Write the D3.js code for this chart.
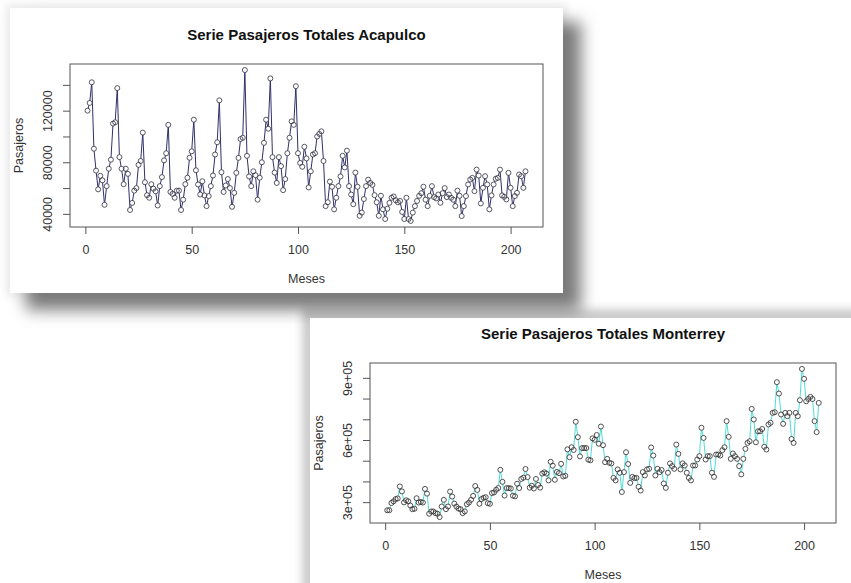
<!DOCTYPE html>
<html><head><meta charset="utf-8">
<script src="https://cdn.jsdelivr.net/npm/d3@7"></script>
<style>
html,body{margin:0;padding:0;background:#fff;}
svg{display:block;}
text{font-family:"Liberation Sans",Arial,Helvetica,sans-serif;}
</style>
</head><body>
<svg id="c" width="851" height="583"></svg>
<script>
// ---- data ----
const acapulcoPasajeros = [
 120000,126000,142000,90500,73500,59000,69500,66000,47000,61500,75000,82000,
 110000,111000,137500,84000,75000,63000,75000,71000,43000,48500,58000,60000,
 78000,81000,103000,64500,54500,52500,63000,59500,57500,46500,61500,68500,
 81500,87000,109000,57000,55500,52500,58000,58000,43000,51000,63000,68000,
 83500,88500,113000,73800,62800,55000,65300,54300,46000,53800,61500,69700,
 86000,95500,128000,72300,57000,62000,67000,60000,45500,56300,71800,83400,
 98000,99000,151500,85000,69000,61500,73000,70000,51000,68000,80000,95000,
 113000,106000,145000,84000,72000,64000,84000,77000,58400,67000,87000,99000,
 111700,109000,139000,87000,79500,76500,92000,83000,60500,73000,86000,87000,
 100000,102000,104000,81000,46000,49000,65000,61000,43500,52500,61500,69000,
 85000,76000,89000,61500,55000,47500,72000,61000,38500,41000,51500,61500,
 66500,64000,62500,54500,49000,38500,54000,43500,36000,44000,48500,52500,
 53500,50500,49000,50000,41500,36000,52500,36000,34500,41000,46000,50000,
 54000,56000,61000,51000,46000,54000,61500,53000,52000,55000,48600,56000,
 60000,53000,55000,52500,51000,46000,58000,54000,38300,46000,53800,62800,
 66600,67900,57600,74300,69700,48100,60200,69200,62800,43500,54300,62800,
 67200,67900,74300,54300,53200,51200,71800,60200,46000,53800,56300,70500,
 69200,60200,73000
];
const monterreyPasajeros = [
 261000,261000,296000,304000,315000,318000,376000,352000,299000,309000,304000,284000,
 266000,268000,319000,298000,301000,298000,364000,341000,244000,255000,255000,247000,
 244000,228000,279000,311000,266000,279000,351000,327000,293000,279000,269000,266000,
 247000,255000,290000,298000,311000,330000,378000,359000,292000,315000,321000,324000,
 295000,292000,344000,347000,360000,368000,456000,398000,332000,368000,368000,366000,
 331000,328000,389000,368000,412000,418000,460000,421000,370000,379000,366000,412000,
 383000,370000,438000,444000,438000,405000,495000,476000,408000,446000,440000,485000,
 424000,427000,555000,517000,565000,552000,688000,614000,521000,561000,561000,561000,
 505000,502000,608000,601000,624000,582000,665000,575000,493000,509000,490000,487000,
 417000,405000,458000,442000,349000,445000,541000,484000,393000,422000,416000,417000,
 374000,356000,445000,429000,458000,461000,564000,525000,429000,461000,445000,455000,
 390000,369000,442000,487000,474000,461000,578000,533000,458000,487000,477000,442000,
 417000,405000,477000,477000,506000,522000,659000,610000,506000,522000,522000,442000,
 422000,530000,530000,525000,551000,565000,691000,615000,509000,535000,522000,509000,
 474000,434000,509000,557000,586000,594000,750000,699000,589000,642000,642000,653000,
 567000,554000,675000,683000,731000,734000,879000,824000,723000,678000,731000,715000,
 731000,605000,586000,731000,715000,792000,943000,895000,787000,798000,808000,798000,
 691000,638000,779000
];
const meses = d3.range(1, acapulcoPasajeros.length + 1);
const xTicks = [0, 50, 100, 150, 200];
const acapulcoYTicks = [40000, 60000, 80000, 100000, 120000, 140000];
const acapulcoYLabels = ["40000", "", "80000", "", "120000", ""];
const monterreyYTicks = [300000, 400000, 500000, 600000, 700000, 800000, 900000];
const monterreyYLabels = ["3e+05", "", "", "6e+05", "", "", "9e+05"];
const titleAcapulco = "Serie Pasajeros Totales Acapulco";
const titleMonterrey = "Serie Pasajeros Totales Monterrey";
const xTitle = "Meses";
const yTitle = "Pasajeros";

// ---- drawing ----
const svg = d3.select("#c");
const defs = svg.append("defs");
function blurFilter(id, sd) {
  defs.append("filter").attr("id", id)
    .attr("x", "-30%").attr("y", "-30%").attr("width", "160%").attr("height", "160%")
    .append("feGaussianBlur").attr("stdDeviation", sd);
}
blurFilter("bBig", 8);
blurFilter("bSmall", 4);

// Acapulco panel with drop shadow
svg.append("rect").attr("x", 6).attr("y", 4).attr("width", 561).attr("height", 293)
  .attr("fill", "#000").attr("opacity", 0.08).attr("filter", "url(#bSmall)");
svg.append("rect").attr("x", 26).attr("y", 22).attr("width", 555).attr("height", 288)
  .attr("fill", "#7a7a7a").attr("filter", "url(#bBig)");
svg.append("rect").attr("x", 10).attr("y", 8).attr("width", 553).attr("height", 285).attr("fill", "#fff");

// Monterrey panel with glow
svg.append("rect").attr("x", 302).attr("y", 309).attr("width", 560).attr("height", 290)
  .attr("fill", "#000").attr("opacity", 0.2).attr("filter", "url(#bSmall)");
svg.append("rect").attr("x", 310).attr("y", 318).attr("width", 541).attr("height", 265).attr("fill", "#fff");

function chart(cfg) {
  const { box, values, yTicks, yLabels, title, lineColor, pointColor } = cfg;
  const g = svg.append("g");
  const ye = d3.extent(values), yp = (ye[1] - ye[0]) * 0.04;
  const xe = d3.extent(meses), xp = (xe[1] - xe[0]) * 0.04;
  const x = d3.scaleLinear().domain([xe[0] - xp, xe[1] + xp]).range([box.l, box.r]);
  const y = d3.scaleLinear().domain([ye[0] - yp, ye[1] + yp]).range([box.b, box.t]);

  g.append("path").datum(values)
    .attr("d", d3.line().x((d, i) => x(meses[i])).y(d => y(d)))
    .attr("fill", "none").attr("stroke", lineColor).attr("stroke-width", 1);
  g.append("g").selectAll("circle").data(values).join("circle")
    .attr("cx", (d, i) => x(meses[i])).attr("cy", d => y(d)).attr("r", 2.5).attr("fill", "#fff");
  g.append("g").selectAll("circle").data(values).join("circle")
    .attr("cx", (d, i) => x(meses[i])).attr("cy", d => y(d)).attr("r", 2.5)
    .attr("fill", "none").attr("stroke", pointColor).attr("stroke-width", 0.85);

  g.append("rect").attr("x", box.l).attr("y", box.t)
    .attr("width", box.r - box.l).attr("height", box.b - box.t)
    .attr("fill", "none").attr("stroke", "#555").attr("stroke-width", 1);

  const xa = g.append("g").attr("transform", `translate(0,${box.b})`)
    .call(d3.axisBottom(x).tickValues(xTicks).tickSize(7).tickFormat(d3.format("d")));
  xa.select(".domain").remove();
  xa.selectAll("line").attr("stroke", "#555");
  xa.selectAll("text").attr("y", 27).attr("dy", 0)
    .attr("font-size", 12.5).attr("fill", "#333").attr("font-family", null);

  const ya = g.append("g").attr("transform", `translate(${box.l},0)`)
    .call(d3.axisLeft(y).tickValues(yTicks).tickSize(7).tickFormat((d, i) => yLabels[i]));
  ya.select(".domain").remove();
  ya.selectAll("line").attr("stroke", "#555");
  ya.selectAll("text").attr("transform", "rotate(-90)")
    .attr("x", 0).attr("y", -18).attr("dy", 0).attr("text-anchor", "middle")
    .attr("font-size", 12.5).attr("fill", "#333").attr("font-family", null);

  const cx = (box.l + box.r) / 2, cy = (box.t + box.b) / 2;
  g.append("text").attr("x", cx).attr("y", box.t - 24).attr("text-anchor", "middle")
    .attr("font-size", 15).attr("font-weight", "bold").attr("fill", "#111").text(title);
  g.append("text").attr("x", cx).attr("y", box.b + 56).attr("text-anchor", "middle")
    .attr("font-size", 12.5).attr("fill", "#333").text(xTitle);
  g.append("text").attr("transform", `translate(${box.l - 46.7},${cy}) rotate(-90)`)
    .attr("text-anchor", "middle").attr("font-size", 12.5).attr("fill", "#333").text(yTitle);
}

chart({ box: { l: 70, r: 543, t: 64, b: 227 }, values: acapulcoPasajeros,
  yTicks: acapulcoYTicks, yLabels: acapulcoYLabels, title: titleAcapulco,
  lineColor: "#30306a", pointColor: "#3a3a4a" });
chart({ box: { l: 370, r: 836, t: 363, b: 523 }, values: monterreyPasajeros,
  yTicks: monterreyYTicks, yLabels: monterreyYLabels, title: titleMonterrey,
  lineColor: "#4fdcd6", pointColor: "#333" });
</script>
</body></html>
